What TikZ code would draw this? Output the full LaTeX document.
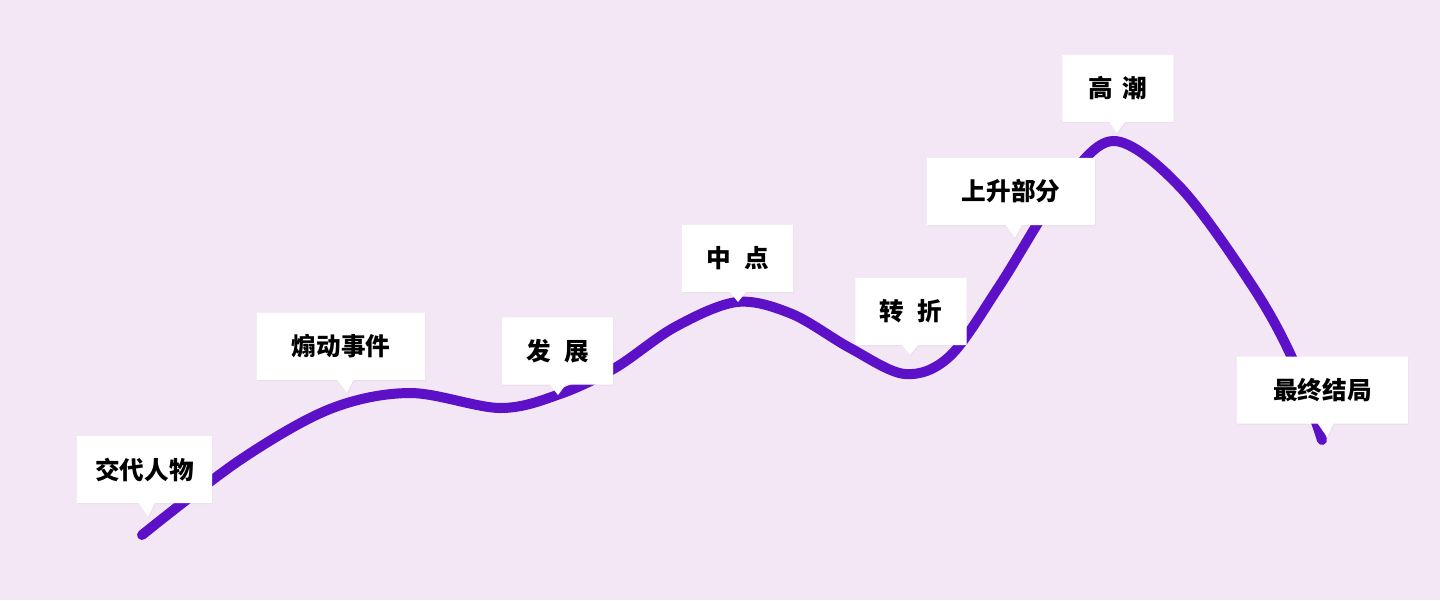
\documentclass[tikz,border=0pt]{standalone}
\usepackage{fontspec}
\newfontfamily\cjk{Noto Sans CJK SC}
\usetikzlibrary{shapes.callouts,shadows}
\definecolor{bglilac}{RGB}{243,231,246}
\definecolor{curvepurple}{RGB}{92,16,200}

\begin{document}
\begin{tikzpicture}[x=0.025cm, y=-0.025cm,
  tag/.style={shape=rectangle callout, fill=white, draw=none,
              minimum width=#1, minimum height=1.675cm, inner sep=0pt,
              callout pointer width=0.4cm,
              drop shadow={opacity=0.10, shadow xshift=0.5pt, shadow yshift=-0.7pt},
              font=\cjk\bfseries\fontsize{17.5}{20}\selectfont},
  tag/.default=2.775cm,
  storyline/.style={draw=curvepurple, line width=0.25cm, line cap=round}
]
% background
\fill[bglilac] (0,0) rectangle (1440,600);

% story curve
\draw[storyline] plot[smooth, tension=0.55] coordinates {
  (142,535) (240,460) (330,409) (410,393) (500,408) (560,394)
  (615,368) (675,327) (737,302) (792,314) (850,348) (905,374)
  (950,356) (1000,285) (1060,190) (1113,141) (1180,187)
  (1253,287) (1293,360) (1322,440)};

% pointer tips on the curve
\coordinate (p-intro)  at (148,517);
\coordinate (p-incite) at (347,393);
\coordinate (p-dev)    at (558,395);
\coordinate (p-mid)    at (738,302);
\coordinate (p-turn)   at (910,355);
\coordinate (p-rise)   at (1015,238);
\coordinate (p-climax) at (1117,133);
\coordinate (p-end)    at (1327,437);

% labels
\node[tag=3.375cm, callout absolute pointer={(p-intro)}]  (n-intro)  at (144.5,469.5) {交代人物};
\node[tag=4.2cm,   callout absolute pointer={(p-incite)}] (n-incite) at (341,346.5)   {煽动事件};
\node[tag,         callout absolute pointer={(p-dev)}]    (n-dev)    at (557.5,351)   {发\hspace{0.55em}展};
\node[tag,         callout absolute pointer={(p-mid)}]    (n-mid)    at (737.5,258.5) {中\hspace{0.55em}点};
\node[tag,         callout absolute pointer={(p-turn)}]   (n-turn)   at (911,311.5)   {转\hspace{0.55em}折};
\node[tag=4.2cm,   callout absolute pointer={(p-rise)}]   (n-rise)   at (1011,191.5)  {上升部分};
\node[tag,         callout absolute pointer={(p-climax)}] (n-climax) at (1118,88.5)   {高\hspace{0.4em}潮};
\node[tag=4.275cm, callout absolute pointer={(p-end)}]    (n-end)    at (1322.5,390)  {最终结局};
\end{tikzpicture}
\end{document}
